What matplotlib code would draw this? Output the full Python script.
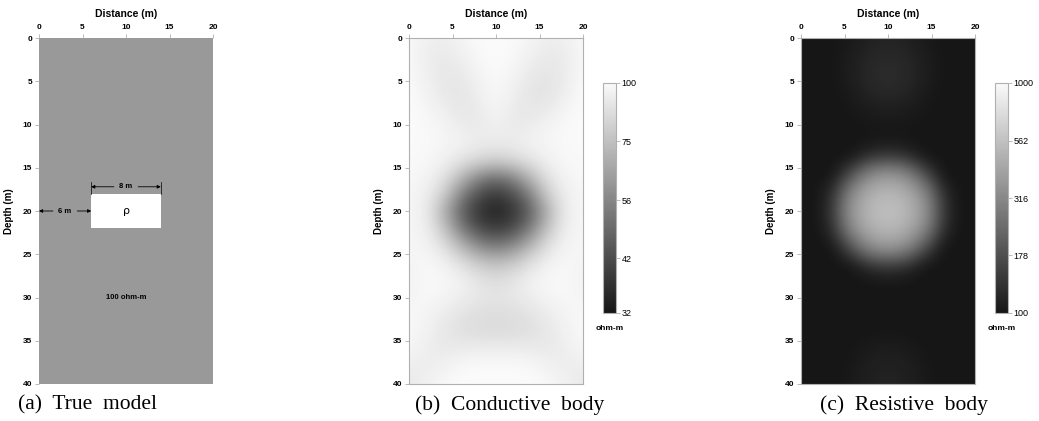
import matplotlib.pyplot as plt
import numpy as np
from matplotlib.colors import LogNorm, LinearSegmentedColormap
from matplotlib.patches import Rectangle

# grid nodes (m) for the two inverted sections
x_nodes = [0, 2, 4, 6, 8, 10, 12, 14, 16, 18, 20]
z_nodes = list(range(0, 41, 2))

# (a) true model
background_res = 100
body_x = [6, 14]
body_z = [18, 22]

# (b) conductive body, ohm-m
conductive = [
    [99, 95, 94, 97, 100, 100, 100, 97, 94, 95, 99],
    [99, 94, 92, 95, 99, 100, 99, 95, 92, 93, 99],
    [99, 95, 91, 92, 97, 100, 97, 92, 90, 93, 99],
    [100, 96, 91, 90, 95, 99, 95, 90, 89, 94, 100],
    [100, 98, 94, 90, 93, 98, 93, 90, 92, 97, 100],
    [100, 99, 97, 93, 92, 95, 92, 93, 97, 99, 100],
    [100, 99, 98, 96, 94, 93, 94, 96, 98, 99, 100],
    [99, 99, 96, 91, 85, 82, 85, 91, 96, 99, 99],
    [99, 97, 90, 72, 56, 50, 56, 72, 90, 97, 99],
    [98, 95, 80, 54, 42, 38, 42, 54, 80, 95, 98],
    [98, 94, 68, 46, 37, 34, 37, 46, 68, 94, 98],
    [98, 95, 76, 52, 41, 38, 41, 52, 76, 95, 98],
    [98, 97, 88, 70, 56, 51, 56, 70, 88, 97, 98],
    [97, 99, 96, 88, 78, 74, 78, 88, 96, 99, 97],
    [96, 99, 99, 96, 90, 87, 90, 96, 99, 99, 96],
    [97, 99, 97, 94, 91, 90, 91, 94, 97, 99, 97],
    [99, 97, 93, 89, 87, 86, 87, 89, 93, 97, 99],
    [99, 96, 91, 88, 86, 86, 86, 88, 91, 96, 99],
    [98, 94, 92, 93, 94, 94, 94, 93, 92, 94, 98],
    [94, 93, 96, 99, 100, 100, 100, 99, 96, 93, 94],
    [92, 96, 99, 100, 100, 100, 100, 100, 99, 96, 92],
]

# (c) resistive body, ohm-m
resistive = [
    [100, 100, 101, 105, 112, 115, 112, 105, 101, 100, 100],
    [100, 100, 102, 108, 118, 122, 118, 108, 102, 100, 100],
    [100, 100, 102, 110, 122, 127, 122, 110, 102, 100, 100],
    [100, 100, 101, 107, 118, 123, 118, 107, 101, 100, 100],
    [100, 100, 100, 103, 108, 110, 108, 103, 100, 100, 100],
    [100, 100, 100, 101, 102, 103, 102, 101, 100, 100, 100],
    [100, 100, 100, 100, 101, 102, 101, 100, 100, 100, 100],
    [100, 100, 100, 103, 135, 150, 135, 103, 100, 100, 100],
    [100, 100, 103, 190, 330, 380, 330, 190, 103, 100, 100],
    [100, 100, 135, 330, 470, 520, 470, 330, 135, 100, 100],
    [100, 100, 150, 380, 520, 560, 520, 380, 150, 100, 100],
    [100, 100, 135, 330, 470, 520, 470, 330, 135, 100, 100],
    [100, 100, 103, 190, 330, 380, 330, 190, 103, 100, 100],
    [100, 100, 100, 103, 135, 150, 135, 103, 100, 100, 100],
    [100, 100, 100, 100, 101, 102, 101, 100, 100, 100, 100],
    [100, 100, 100, 100, 100, 100, 100, 100, 100, 100, 100],
    [100, 100, 100, 100, 100, 100, 100, 100, 100, 100, 100],
    [100, 100, 100, 100, 101, 102, 101, 100, 100, 100, 100],
    [100, 100, 100, 102, 106, 108, 106, 102, 100, 100, 100],
    [100, 100, 100, 104, 110, 113, 110, 104, 100, 100, 100],
    [100, 100, 100, 105, 112, 116, 112, 105, 100, 100, 100],
]

cond_ticks = [32, 42, 56, 75, 100]
res_ticks = [100, 178, 316, 562, 1000]

captions = ['(a)  True  model', '(b)  Conductive  body', '(c)  Resistive  body']

plt.rcParams['font.family'] = ['Liberation Sans', 'DejaVu Sans']
cmap = LinearSegmentedColormap.from_list('g', ['#161616', '#fafafa'])
edge = '#b0b0b0'

fig = plt.figure(figsize=(10.39, 4.21), dpi=100)

lefts = [39 / 1039, 409 / 1039, 801 / 1039]
bottom = 1 - 384 / 421
height = 346 / 421
width = 174 / 1039
axes = [fig.add_axes([l, bottom, width, height]) for l in lefts]


def style(ax):
    ax.set_xlim(0, 20)
    ax.set_ylim(40, 0)
    ax.xaxis.tick_top()
    ax.xaxis.set_label_position('top')
    ax.set_xticks([0, 5, 10, 15, 20])
    ax.set_yticks([0, 5, 10, 15, 20, 25, 30, 35, 40])
    ax.tick_params(length=3, width=0.6, color=edge, labelsize=6, pad=2)
    for lab in ax.get_xticklabels() + ax.get_yticklabels():
        lab.set_fontweight('bold')
    ax.set_xlabel('Distance (m)', fontsize=7.5, fontweight='bold', labelpad=5)
    ax.set_ylabel('Depth (m)', fontsize=7, fontweight='bold', labelpad=6)
    for s in ax.spines.values():
        s.set_color(edge)
        s.set_linewidth(0.8)


# (a) true model
ax = axes[0]
ax.set_facecolor('#999999')
ax.add_patch(Rectangle((body_x[0], body_z[0]), body_x[1] - body_x[0], body_z[1] - body_z[0],
                       facecolor='white', edgecolor='none'))
aprops = dict(arrowstyle='-|>', color='black', lw=0.6, mutation_scale=5, shrinkA=0, shrinkB=0)
ax.annotate('', xy=(body_x[0], 17.2), xytext=(8.6, 17.2), arrowprops=aprops)
ax.annotate('', xy=(body_x[1], 17.2), xytext=(11.4, 17.2), arrowprops=aprops)
ax.text(10, 17.2, '8 m', ha='center', va='center', fontsize=5.5, fontweight='bold')
ax.plot([body_x[0], body_x[0]], [16.6, body_z[0]], color='black', lw=0.5)
ax.plot([body_x[1], body_x[1]], [16.6, body_z[0]], color='black', lw=0.5)
ax.annotate('', xy=(0, 20), xytext=(1.6, 20), arrowprops=aprops)
ax.annotate('', xy=(body_x[0], 20), xytext=(4.4, 20), arrowprops=aprops)
ax.text(3, 20, '6 m', ha='center', va='center', fontsize=5.5, fontweight='bold')
ax.text(10, 20, 'ρ', ha='center', va='center', fontsize=8, family='DejaVu Sans')
ax.text(10, 30, '%d ohm-m' % background_res, ha='center', va='center', fontsize=5.5, fontweight='bold')
style(ax)
for s in ax.spines.values():
    s.set_visible(False)

# (b) and (c) inverted sections
ext = [-1, 21, 41, -1]
im_b = axes[1].imshow(np.array(conductive), cmap=cmap, norm=LogNorm(32, 100),
                      extent=ext, interpolation='bicubic', aspect='auto')
style(axes[1])
im_c = axes[2].imshow(np.array(resistive), cmap=cmap, norm=LogNorm(100, 1000),
                      extent=ext, interpolation='bicubic', aspect='auto')
style(axes[2])

cb_bottom = 1 - 313 / 421
cb_height = 230 / 421
for im, cx, ticks in [(im_b, 603 / 1039, cond_ticks), (im_c, 995 / 1039, res_ticks)]:
    cax = fig.add_axes([cx, cb_bottom, 13 / 1039, cb_height])
    cb = fig.colorbar(im, cax=cax)
    cb.minorticks_off()
    cb.set_ticks(ticks)
    cb.set_ticklabels([str(t) for t in ticks])
    cax.tick_params(length=3, width=0.6, color=edge, labelsize=6.5, pad=1)
    cb.outline.set_edgecolor(edge)
    cb.outline.set_linewidth(0.8)
    fig.text(cx + 7 / 1039, 1 - 328 / 421, 'ohm-m', ha='center', va='center',
             fontsize=6, fontweight='bold')

cap_x = [18, 415, 820]
for cx, txt in zip(cap_x, captions):
    fig.text(cx / 1039, 1 - 405 / 421, txt, ha='left', va='center', fontsize=15.5,
             family='Liberation Serif')

plt.savefig('out.png', dpi=100)
